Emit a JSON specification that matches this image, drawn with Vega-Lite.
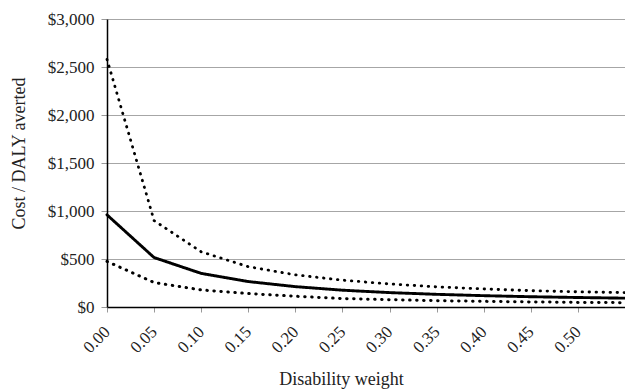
{
  "$schema": "https://vega.github.io/schema/vega-lite/v6.json",
  "autosize": "none",
  "width": 518,
  "height": 288,
  "padding": {"left": 107, "top": 19, "right": 0, "bottom": 83},
  "background": "white",
  "config": {
    "view": {"stroke": null}
  },
  "data": {
    "values": [
      {"w": 0.00, "s": "upper", "v": 2580},
      {"w": 0.05, "s": "upper", "v": 900},
      {"w": 0.10, "s": "upper", "v": 575},
      {"w": 0.15, "s": "upper", "v": 420},
      {"w": 0.20, "s": "upper", "v": 335},
      {"w": 0.25, "s": "upper", "v": 280},
      {"w": 0.30, "s": "upper", "v": 240},
      {"w": 0.35, "s": "upper", "v": 210},
      {"w": 0.40, "s": "upper", "v": 188},
      {"w": 0.45, "s": "upper", "v": 170},
      {"w": 0.50, "s": "upper", "v": 158},
      {"w": 0.55, "s": "upper", "v": 150},
      {"w": 0.00, "s": "mid", "v": 960},
      {"w": 0.05, "s": "mid", "v": 515},
      {"w": 0.10, "s": "mid", "v": 350},
      {"w": 0.15, "s": "mid", "v": 265},
      {"w": 0.20, "s": "mid", "v": 212},
      {"w": 0.25, "s": "mid", "v": 175},
      {"w": 0.30, "s": "mid", "v": 150},
      {"w": 0.35, "s": "mid", "v": 132},
      {"w": 0.40, "s": "mid", "v": 118},
      {"w": 0.45, "s": "mid", "v": 107},
      {"w": 0.50, "s": "mid", "v": 99},
      {"w": 0.55, "s": "mid", "v": 92},
      {"w": 0.00, "s": "lower", "v": 475},
      {"w": 0.05, "s": "lower", "v": 255},
      {"w": 0.10, "s": "lower", "v": 178},
      {"w": 0.15, "s": "lower", "v": 140},
      {"w": 0.20, "s": "lower", "v": 112},
      {"w": 0.25, "s": "lower", "v": 88},
      {"w": 0.30, "s": "lower", "v": 76},
      {"w": 0.35, "s": "lower", "v": 66},
      {"w": 0.40, "s": "lower", "v": 59},
      {"w": 0.45, "s": "lower", "v": 53},
      {"w": 0.50, "s": "lower", "v": 48},
      {"w": 0.55, "s": "lower", "v": 45}
    ]
  },
  "mark": {"type": "line", "color": "black", "strokeCap": "round", "clip": false},
  "encoding": {
    "x": {
      "field": "w",
      "type": "quantitative",
      "scale": {"domain": [0, 0.55], "nice": false, "zero": false},
      "axis": {
        "title": "Disability weight",
        "values": [0, 0.05, 0.1, 0.15, 0.2, 0.25, 0.3, 0.35, 0.4, 0.45, 0.5],
        "format": ".2f",
        "labelFont": "Liberation Serif",
        "labelFontSize": 17,
        "labelColor": "#222",
        "titleFont": "Liberation Serif",
        "titleFontSize": 18,
        "titleFontWeight": "normal",
        "titleColor": "#222",
        "titleX": 234,
        "titleY": 77,
        "titleAnchor": "middle",
        "titleAlign": "center",
        "titleBaseline": "alphabetic",
        "labelAngle": -45,
        "labelAlign": "right",
        "labelBaseline": "middle",
        "labelPadding": 17,
        "labelDx": 5,
        "labelFlush": false,
        "labelOverlap": false,
        "grid": false,
        "domainColor": "black",
        "domainWidth": 1.5,
        "tickColor": "#999",
        "tickSize": 5
      }
    },
    "y": {
      "field": "v",
      "type": "quantitative",
      "scale": {"domain": [0, 3000], "nice": false},
      "axis": {
        "title": "Cost / DALY averted",
        "values": [0, 500, 1000, 1500, 2000, 2500, 3000],
        "format": "$,.0f",
        "labelFont": "Liberation Serif",
        "labelFontSize": 17,
        "labelColor": "#222",
        "titleFont": "Liberation Serif",
        "titleFontSize": 18,
        "titleFontWeight": "normal",
        "titleColor": "#222",
        "titleX": -88,
        "titleY": 134,
        "titleAngle": -90,
        "titleAlign": "center",
        "titleBaseline": "middle",
        "grid": true,
        "gridColor": "#a6a6a6",
        "gridWidth": 1,
        "domainColor": "black",
        "domainWidth": 1.5,
        "tickColor": "#999",
        "tickSize": 6,
        "labelPadding": 7
      }
    },
    "detail": {"field": "s"},
    "strokeDash": {
      "field": "s",
      "type": "nominal",
      "scale": {"domain": ["upper", "mid", "lower"], "range": [[0.5, 6.5], [1, 0], [0.5, 6.5]]},
      "legend": null
    },
    "strokeWidth": {
      "field": "s",
      "type": "nominal",
      "scale": {"domain": ["upper", "mid", "lower"], "range": [2.8, 3, 2.8]},
      "legend": null
    }
  }
}
